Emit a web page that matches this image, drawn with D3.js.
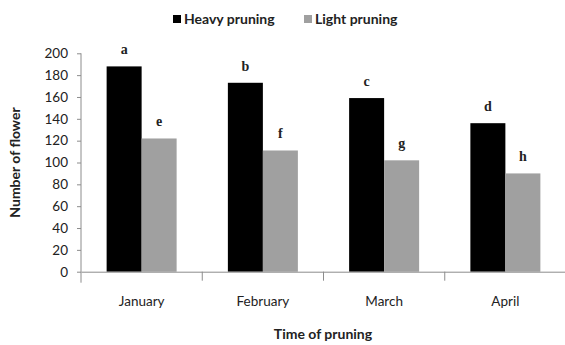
<!DOCTYPE html>
<html>
<head>
<meta charset="utf-8">
<script src="https://cdn.jsdelivr.net/npm/d3@7"></script>
<style>
  body { margin: 0; background: #fff; }
  svg { display: block; }
</style>
</head>
<body>
<div id="chart"></div>
<script>
// data
var months = ["January", "February", "March", "April"];
var seriesNames = ["Heavy pruning", "Light pruning"];
var heavy = [188, 173, 159, 136];
var light = [122, 111, 102, 90];
var heavyLetters = ["a", "b", "c", "d"];
var lightLetters = ["e", "f", "g", "h"];
var yTicks = [0, 20, 40, 60, 80, 100, 120, 140, 160, 180, 200];

var width = 565, height = 345;
var margin = { top: 53, right: -1, bottom: 74, left: 81 };
var colors = { "Heavy pruning": "#000000", "Light pruning": "#a0a0a0" };
var sansFont = "Lato, 'Open Sans', sans-serif";
var axisColor = "#8c8c8c";

var svg = d3.select("#chart").append("svg")
    .attr("width", width)
    .attr("height", height);

var x0 = d3.scaleBand()
    .domain(months)
    .range([margin.left, width - margin.right])
    .padding(0);

var groupWidth = 70;
var x1 = d3.scaleBand()
    .domain(seriesNames)
    .range([0, groupWidth]);

var y = d3.scaleLinear()
    .domain([0, 200])
    .range([height - margin.bottom + 0.7, margin.top + 0.3]);

var rows = months.map(function (m, i) {
    return {
        month: m,
        bars: [
            { key: "Heavy pruning", value: heavy[i], letter: heavyLetters[i] },
            { key: "Light pruning", value: light[i], letter: lightLetters[i] }
        ]
    };
});

// bars
var groups = svg.append("g").selectAll("g")
    .data(rows)
    .join("g")
    .attr("transform", function (d) {
        return "translate(" + (x0(d.month) + (x0.bandwidth() - groupWidth) / 2) + ",0)";
    });

groups.selectAll("rect")
    .data(function (d) { return d.bars; })
    .join("rect")
    .attr("x", function (d) { return x1(d.key); })
    .attr("y", function (d) { return y(d.value); })
    .attr("width", x1.bandwidth())
    .attr("height", function (d) { return y(0) - y(d.value); })
    .attr("fill", function (d) { return colors[d.key]; });

// significance letters
groups.selectAll("text")
    .data(function (d) { return d.bars; })
    .join("text")
    .attr("x", function (d) { return x1(d.key) + x1.bandwidth() / 2; })
    .attr("y", function (d) { return y(d.value) - 12; })
    .attr("text-anchor", "middle")
    .attr("font-family", "'Liberation Serif', 'Times New Roman', serif")
    .attr("font-weight", "bold")
    .attr("font-size", 14)
    .attr("fill", "#222")
    .text(function (d) { return d.letter; });

// y axis
var yAxis = svg.append("g")
    .attr("transform", "translate(" + margin.left + ",0)")
    .call(d3.axisLeft(y).tickValues(yTicks).tickSize(4).tickPadding(9));
yAxis.select(".domain").attr("stroke", axisColor).attr("d", "M0," + y(200) + "V" + (y(0) + 11));
yAxis.selectAll(".tick line").attr("stroke", axisColor);
yAxis.selectAll(".tick text")
    .attr("font-family", sansFont)
    .attr("font-size", 13.5)
    .attr("fill", "#222");

// x axis
var xAxis = svg.append("g")
    .attr("transform", "translate(0," + y(0) + ")")
    .call(d3.axisBottom(x0).tickSize(0).tickPadding(25));
xAxis.select(".domain").attr("stroke", axisColor);
xAxis.selectAll(".tick text")
    .attr("font-family", sansFont)
    .attr("font-size", 13.5)
    .attr("fill", "#222");

// category separators
svg.append("g").selectAll("line")
    .data(months.slice(1))
    .join("line")
    .attr("x1", function (d) { return x0(d); })
    .attr("x2", function (d) { return x0(d); })
    .attr("y1", y(0))
    .attr("y2", y(0) + 9)
    .attr("stroke", axisColor);

// axis titles
svg.append("text")
    .attr("transform", "translate(20," + ((y(0) + y(200)) / 2) + ") rotate(-90)")
    .attr("text-anchor", "middle")
    .attr("font-family", sansFont)
    .attr("font-weight", "bold")
    .attr("font-size", 14)
    .attr("fill", "#222")
    .text("Number of flower");

svg.append("text")
    .attr("x", 323)
    .attr("y", 339)
    .attr("text-anchor", "middle")
    .attr("font-family", sansFont)
    .attr("font-weight", "bold")
    .attr("font-size", 14)
    .attr("fill", "#222")
    .text("Time of pruning");

// legend
var legendX = [173, 304];
var legend = svg.append("g").selectAll("g")
    .data(seriesNames)
    .join("g")
    .attr("transform", function (d, i) { return "translate(" + legendX[i] + ",15)"; });

legend.append("rect")
    .attr("width", 8)
    .attr("height", 8)
    .attr("fill", function (d) { return colors[d]; });

legend.append("text")
    .attr("x", 11)
    .attr("y", 9)
    .attr("font-family", sansFont)
    .attr("font-weight", "bold")
    .attr("font-size", 14)
    .attr("fill", "#222")
    .text(function (d) { return d; });
</script>
</body>
</html>
